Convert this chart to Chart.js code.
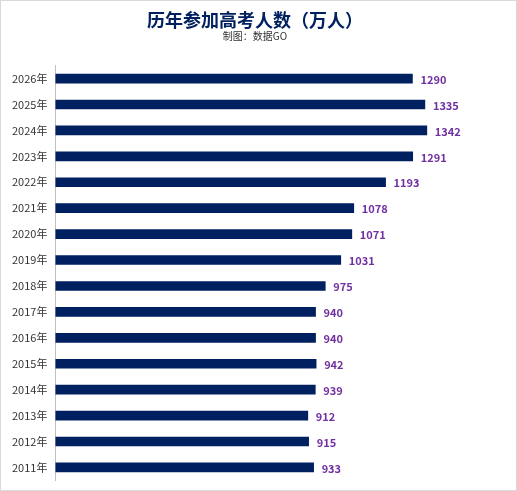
<!DOCTYPE html>
<html>
<head>
<meta charset="utf-8">
<script src="https://cdn.jsdelivr.net/npm/chart.js@4/dist/chart.umd.min.js"></script>
<style>
  html, body { margin: 0; padding: 0; background: #fff; }
  #wrap { width: 517px; height: 491px; box-sizing: border-box; border: 1px solid #d9d9d9; }
</style>
</head>
<body>
<div id="wrap"><canvas id="chart" width="515" height="489"></canvas></div>
<script>
const years = ["2026年", "2025年", "2024年", "2023年", "2022年", "2021年", "2020年", "2019年",
  "2018年", "2017年", "2016年", "2015年", "2014年", "2013年", "2012年", "2011年"];
const applicants = [1290, 1335, 1342, 1291, 1193, 1078, 1071, 1031, 975, 940, 940, 942, 939, 912, 915, 933];

const valueLabels = {
  id: "valueLabels",
  afterDatasetsDraw(chart) {
    const ctx = chart.ctx;
    const meta = chart.getDatasetMeta(0);
    ctx.save();
    ctx.font = "bold 11px 'Noto Sans CJK SC', sans-serif";
    ctx.fillStyle = "#7030a0";
    ctx.textBaseline = "middle";
    meta.data.forEach((bar, i) => {
      ctx.fillText(applicants[i], bar.x + 8, bar.y + 1);
    });
    ctx.restore();
  }
};

new Chart(document.getElementById("chart"), {
  type: "bar",
  data: {
    labels: years,
    datasets: [{
      data: applicants,
      backgroundColor: "#002060",
      barThickness: 9
    }]
  },
  options: {
    indexAxis: "y",
    responsive: false,
    animation: false,
    layout: { padding: { left: 8, right: 15, bottom: 0 } },
    plugins: {
      legend: { display: false },
      tooltip: { enabled: false },
      title: {
        display: true,
        text: "历年参加高考人数（万人）",
        color: "#002060",
        font: { size: 18, weight: "bold", family: "'Noto Sans CJK SC', sans-serif" },
        padding: { top: 8, bottom: 0 }
      },
      subtitle: {
        display: true,
        text: "制图：数据GO",
        color: "#333",
        font: { size: 10, family: "'Noto Sans CJK SC', sans-serif" },
        padding: { top: 0, bottom: 23 }
      }
    },
    scales: {
      x: {
        display: false,
        min: 0,
        max: 1610
      },
      y: {
        grid: { display: false, drawTicks: true, tickLength: 5 },
        border: { color: "#bfbfbf" },
        ticks: {
          color: "#333",
          font: { size: 11, family: "'Noto Sans CJK SC', sans-serif" }
        }
      }
    }
  },
  plugins: [valueLabels]
});
</script>
</body>
</html>
